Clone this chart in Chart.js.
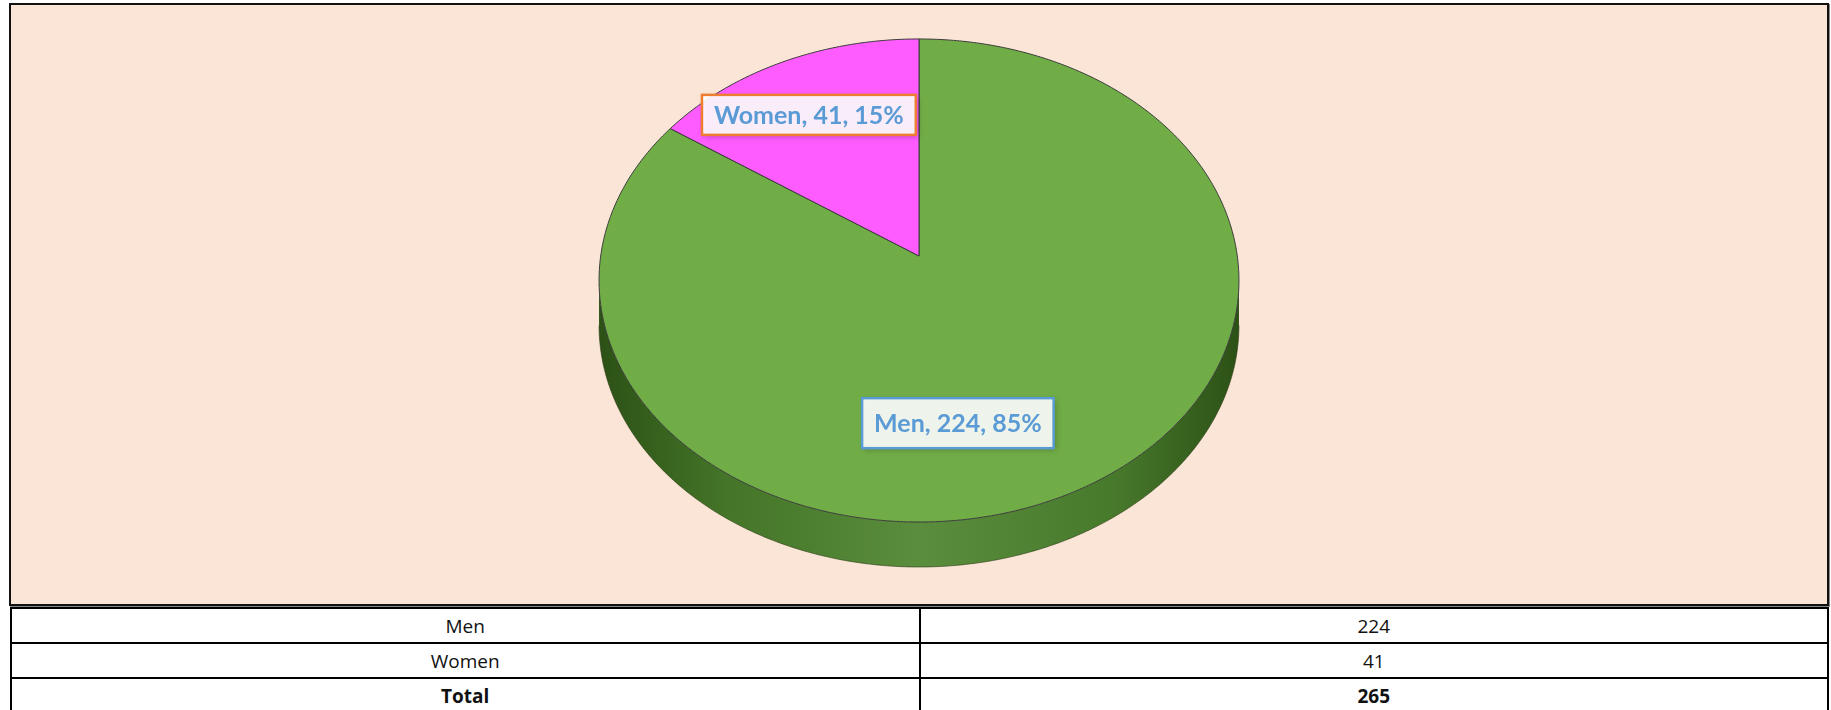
<!DOCTYPE html>
<html>
<head>
<meta charset="utf-8">
<script src="https://cdn.jsdelivr.net/npm/chart.js@4.4.1/dist/chart.umd.min.js"></script>
<style>
  html, body { margin: 0; padding: 0; background: #fff; width: 1831px; height: 710px; overflow: hidden; }
  #box { position: absolute; left: 9px; top: 3px; width: 1820px; height: 603px; box-sizing: border-box;
         border: 2px solid #111; background: #fbe5d6; box-shadow: 1px 1px 0 #888; }
  #box canvas { display: block; }
  #tbl { position: absolute; left: 10px; top: 607px; width: 1819px; border-collapse: collapse;
         font-family: "Open Sans", sans-serif; font-size: 19px; color: #111; table-layout: fixed; }
  #tbl td { border: 2px solid #000; height: 33px; padding: 0; text-align: center; }
  #tbl tr.total td { font-weight: bold; }
</style>
</head>
<body>
<div id="box"><canvas id="pie" width="1816" height="599"></canvas></div>
<table id="tbl"></table>
<script>
(function () {
  "use strict";

  const categories = ["Men", "Women"];
  const counts = [224, 41];
  const totalLabel = "Total";

  const colors = ["#70ad47", "#ff5cff"];
  const labelBorders = ["#5b9bd5", "#ed7d31"];
  // label box centre in unit-disk coords (before the tilt), plus box height
  const labelLayout = [
    { u: 0.114, v: 0.653, h: 50 },
    { u: -0.368, v: -0.628, h: 40 },
  ];

  const RX = 320;
  // tilted-disk projection
  const SX = 0.9947;
  const SY = 0.747;
  const PERSP = -0.1014;
  const DEPTH = 45;

  const total = counts.reduce((a, b) => a + b, 0);

  // table under the chart
  const tbl = document.getElementById("tbl");
  categories.forEach((c, i) => {
    const tr = document.createElement("tr");
    tr.innerHTML = `<td>${c}</td><td>${counts[i]}</td>`;
    tbl.appendChild(tr);
  });
  const trTot = document.createElement("tr");
  trTot.className = "total";
  trTot.innerHTML = `<td>${totalLabel}</td><td>${total}</td>`;
  tbl.appendChild(trTot);

  function geom(chart) {
    const el = chart.getDatasetMeta(0).data[0];
    const x = el.x, y = el.y, r = el.outerRadius;
    const proj = (u, v) => {
      const w = 1 + PERSP * v;
      return [x + (r * SX * u) / w, y + (r * SY * v) / w];
    };
    return { x, y, r, proj };
  }

  function arcPoints(proj, a0, a1, dy) {
    const pts = [];
    const n = Math.max(2, Math.ceil(Math.abs(a1 - a0) / 0.01));
    for (let s = 0; s <= n; s++) {
      const t = a0 + ((a1 - a0) * s) / n;
      const p = proj(Math.cos(t), Math.sin(t));
      pts.push([p[0], p[1] + dy]);
    }
    return pts;
  }

  const pie3d = {
    id: "pie3d",
    beforeDatasetsDraw(chart) {
      const ctx = chart.ctx;
      const { x, r, proj } = geom(chart);
      const meta = chart.getDatasetMeta(0);

      // front-facing part of the outline runs between the widest points
      const vw = -PERSP > 0 ? 0.1015 : 0;
      const t0 = Math.asin(vw);
      const ranges = [[t0, Math.PI - t0], [2 * Math.PI + t0, 3 * Math.PI - t0], [-2 * Math.PI + t0, -Math.PI - t0]];

      meta.data.forEach((el, i) => {
        ranges.forEach(([lo, hi]) => {
          const a0 = Math.max(el.startAngle, lo);
          const a1 = Math.min(el.endAngle, hi);
          if (a1 <= a0) return;
          const g = ctx.createLinearGradient(x - r, 0, x + r, 0);
          if (i === 0) {
            g.addColorStop(0, "#2c5116");
            g.addColorStop(0.2, "#447528");
            g.addColorStop(0.5, "#5a8d3c");
            g.addColorStop(0.8, "#487a2c");
            g.addColorStop(1, "#2c5116");
          } else {
            g.addColorStop(0, "#8a2a8a");
            g.addColorStop(0.5, "#c040c0");
            g.addColorStop(1, "#8a2a8a");
          }
          const upper = arcPoints(proj, a0, a1, 0);
          const lower = arcPoints(proj, a0, a1, DEPTH);
          ctx.save();
          ctx.beginPath();
          upper.forEach((p, k) => (k ? ctx.lineTo(p[0], p[1]) : ctx.moveTo(p[0], p[1])));
          for (let k = lower.length - 1; k >= 0; k--) ctx.lineTo(lower[k][0], lower[k][1]);
          ctx.closePath();
          ctx.fillStyle = g;
          ctx.fill();
          ctx.beginPath();
          lower.forEach((p, k) => (k ? ctx.lineTo(p[0], p[1]) : ctx.moveTo(p[0], p[1])));
          ctx.strokeStyle = "rgba(40,60,20,0.6)";
          ctx.lineWidth = 1;
          ctx.stroke();
          ctx.restore();
        });
      });

      // top face, each slice taken from the arc elements
      meta.data.forEach((el) => {
        const o = el.options;
        const c = proj(0, 0);
        const pts = arcPoints(proj, el.startAngle, el.endAngle, 0);
        ctx.save();
        ctx.beginPath();
        ctx.moveTo(c[0], c[1]);
        pts.forEach((p) => ctx.lineTo(p[0], p[1]));
        ctx.closePath();
        ctx.fillStyle = o.backgroundColor;
        ctx.fill();
        ctx.lineWidth = o.borderWidth;
        ctx.strokeStyle = o.borderColor;
        ctx.lineJoin = "round";
        ctx.stroke();
        ctx.restore();
      });
      return false;
    },
    afterDraw(chart) {
      const ctx = chart.ctx;
      const { proj } = geom(chart);

      ctx.save();
      ctx.font = "bold 25px Lato, sans-serif";
      ctx.textAlign = "center";
      ctx.textBaseline = "middle";
      categories.forEach((c, i) => {
        const pct = Math.round((counts[i] / total) * 100);
        const text = `${c}, ${counts[i]}, ${pct}%`;
        const lay = labelLayout[i];
        const [cx, cy] = proj(lay.u, lay.v);
        const w = ctx.measureText(text).width + 24;
        const h = lay.h;
        ctx.save();
        ctx.shadowColor = "rgba(0,0,0,0.25)";
        ctx.shadowBlur = 6;
        ctx.shadowOffsetX = 2;
        ctx.shadowOffsetY = 2;
        ctx.fillStyle = "rgba(255,255,255,0.9)";
        ctx.fillRect(cx - w / 2, cy - h / 2, w, h);
        ctx.restore();
        ctx.strokeStyle = labelBorders[i];
        ctx.lineWidth = 2.5;
        ctx.strokeRect(cx - w / 2, cy - h / 2, w, h);
        ctx.fillStyle = "#5b9bd5";
        ctx.fillText(text, cx, cy + 1);
      });
      ctx.restore();
    },
  };

  new Chart(document.getElementById("pie"), {
    type: "pie",
    data: {
      labels: categories,
      datasets: [{
        data: counts,
        backgroundColor: colors,
        borderColor: "#3a3a3a",
        borderWidth: 1,
        radius: RX,
      }],
    },
    options: {
      responsive: false,
      animation: false,
      layout: { padding: { bottom: 97 } },
      plugins: {
        legend: { display: false },
        tooltip: { enabled: false },
      },
    },
    plugins: [pie3d],
  });
})();
</script>
</body>
</html>
